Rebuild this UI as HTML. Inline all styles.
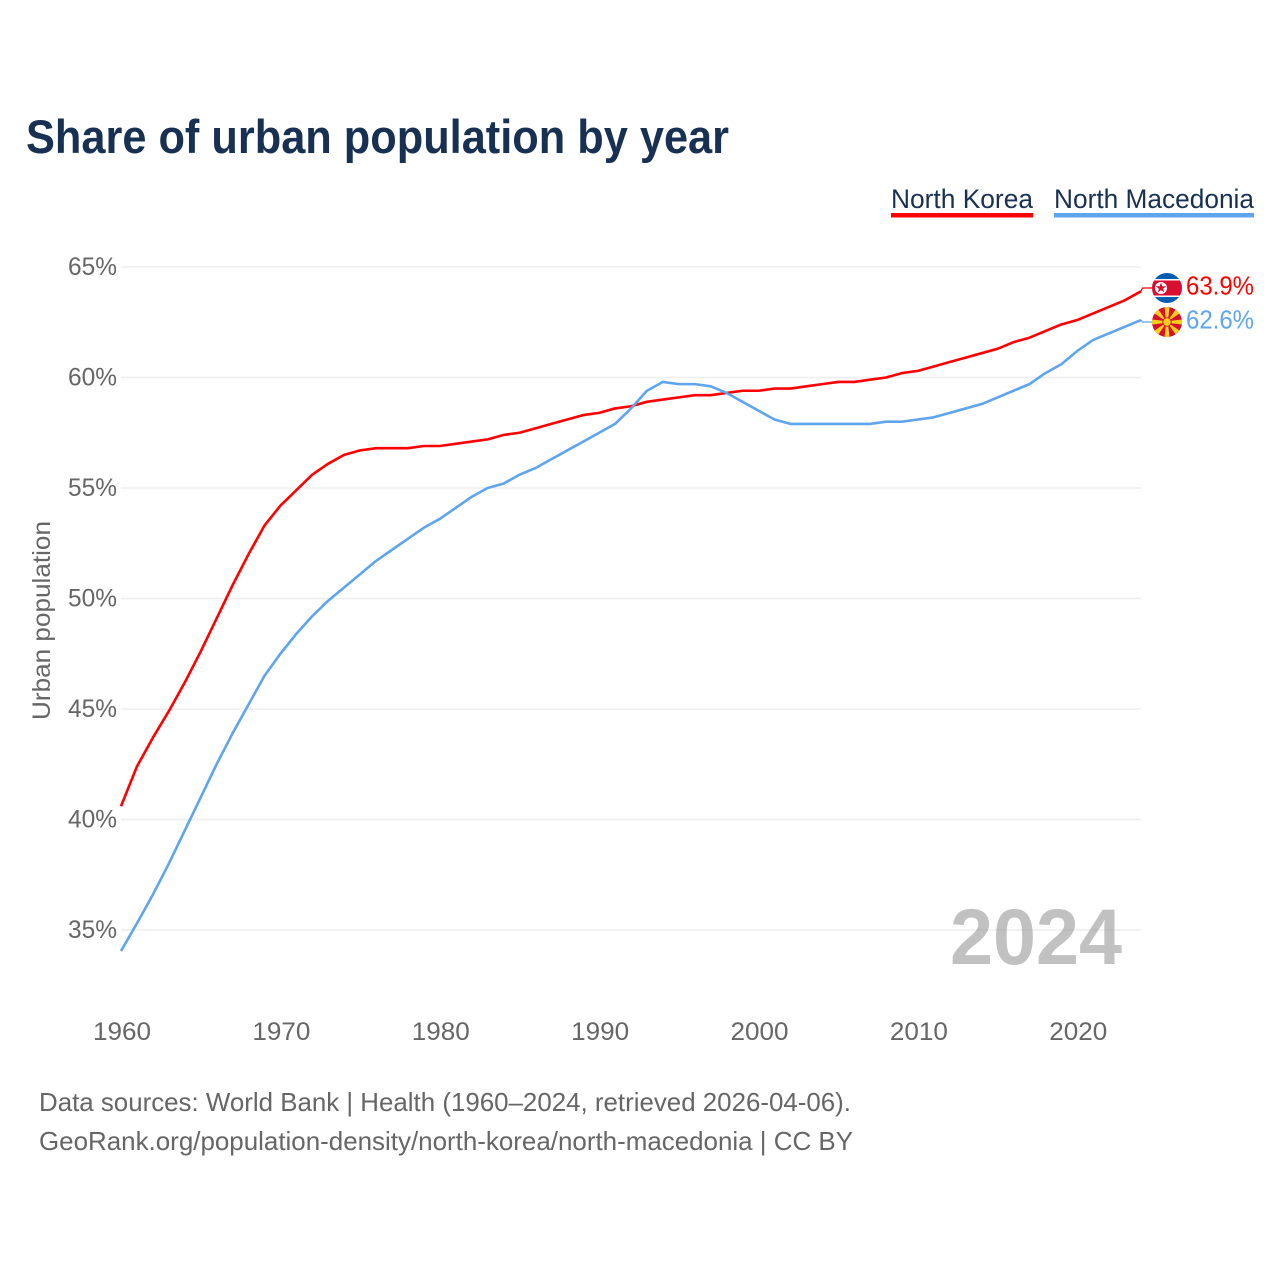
<!DOCTYPE html>
<html lang="en">
<head>
<meta charset="utf-8">
<title>Share of urban population by year</title>
<style>
html,body{margin:0;padding:0;background:#fff;}
svg{display:block;font-family:"Liberation Sans",sans-serif;}
</style>
</head>
<body>
<svg id="chart" xmlns="http://www.w3.org/2000/svg" width="1280" height="1280" viewBox="0 0 1280 1280">
<rect x="0" y="0" width="1280" height="1280" fill="#fff"/>
<text x="26" y="153" font-size="47" font-weight="700" fill="#183153" textLength="703" lengthAdjust="spacingAndGlyphs">Share of urban population by year</text>
<g id="grid"></g>
<g id="yticks"></g>
<g id="xticks"></g>
<text transform="translate(50,720) rotate(-90)" font-size="25" fill="#666" textLength="199" lengthAdjust="spacingAndGlyphs">Urban population</text>
<text x="1122" y="964" text-anchor="end" font-size="79" font-weight="700" fill="#888" fill-opacity="0.52" textLength="172" lengthAdjust="spacingAndGlyphs">2024</text>
<g id="series"></g>
<g>
<text x="891" y="208" font-size="27" fill="#183153" textLength="142" lengthAdjust="spacingAndGlyphs">North Korea</text>
<rect x="891" y="213" width="142" height="4.5" fill="#ff0000"/>
</g>
<g>
<text x="1054" y="208" font-size="27" fill="#183153" textLength="200" lengthAdjust="spacingAndGlyphs">North Macedonia</text>
<rect x="1054" y="213" width="200" height="4.5" fill="#5ea5ee"/>
</g>
<defs>
<clipPath id="clip-kp"><circle cx="1167" cy="288" r="15"/></clipPath>
<clipPath id="clip-mk"><circle cx="1167" cy="322" r="15"/></clipPath>
</defs>
<g clip-path="url(#clip-kp)">
<rect x="1152" y="273" width="30" height="30" fill="#0a5cb0"/>
<rect x="1152" y="279" width="30" height="18" fill="#fff"/>
<rect x="1152" y="280.5" width="30" height="15" fill="#d80f2e"/>
<circle cx="1161" cy="288" r="6" fill="#fff"/>
<polygon points="1161,282.5 1162.3,286.2 1166.2,286.3 1163.1,288.7 1164.2,292.4 1161,290.2 1157.8,292.4 1158.9,288.7 1155.8,286.3 1159.7,286.2" fill="#d80f2e"/>
</g>
<g clip-path="url(#clip-mk)">
<rect x="1152" y="307" width="30" height="30" fill="#d6102a"/>
<g fill="#f8d01c">
<polygon points="1166.2,322 1167.8,322 1169.5,307 1164.5,307"/>
<polygon points="1166.2,322 1167.8,322 1169.5,337 1164.5,337"/>
<polygon points="1167,321.2 1167,322.8 1182,324.5 1182,319.5"/>
<polygon points="1167,321.2 1167,322.8 1152,324.5 1152,319.5"/>
<polygon points="1167,322 1180.6,312.6 1176.4,308.4"/>
<polygon points="1167,322 1153.4,312.6 1157.6,308.4"/>
<polygon points="1167,322 1180.6,331.4 1176.4,335.6"/>
<polygon points="1167,322 1153.4,331.4 1157.6,335.6"/>
<circle cx="1167" cy="322" r="4.2" stroke="#d6102a" stroke-width="0.9"/>
</g>
</g>
<text id="value-kp" x="1186" y="294.5" font-size="25.5" fill="#ff0000" textLength="68" lengthAdjust="spacingAndGlyphs"></text>
<text id="value-mk" x="1186" y="328.5" font-size="25.5" fill="#5ea5ee" textLength="68" lengthAdjust="spacingAndGlyphs"></text>
<text x="39" y="1111" font-size="26" fill="#666" textLength="812" lengthAdjust="spacingAndGlyphs">Data sources: World Bank | Health (1960–2024, retrieved 2026-04-06).</text>
<text x="39" y="1150" font-size="26" fill="#666" textLength="814" lengthAdjust="spacingAndGlyphs">GeoRank.org/population-density/north-korea/north-macedonia | CC BY</text>
</svg>
<script>
const startYear = 1960;
const endYear = 2024;
const yTickValues = [35, 40, 45, 50, 55, 60, 65];
const xTickValues = [1960, 1970, 1980, 1990, 2000, 2010, 2020];
const northKorea = [40.6,42.4,43.7,44.9,46.2,47.6,49.1,50.6,52.0,53.3,54.2,54.9,55.6,56.1,56.5,56.7,56.8,56.8,56.8,56.9,56.9,57.0,57.1,57.2,57.4,57.5,57.7,57.9,58.1,58.3,58.4,58.6,58.7,58.9,59.0,59.1,59.2,59.2,59.3,59.4,59.4,59.5,59.5,59.6,59.7,59.8,59.8,59.9,60.0,60.2,60.3,60.5,60.7,60.9,61.1,61.3,61.6,61.8,62.1,62.4,62.6,62.9,63.2,63.5,63.9];
const northMacedonia = [34.05,35.3,36.6,38.0,39.5,41.0,42.5,43.9,45.2,46.5,47.5,48.4,49.2,49.9,50.5,51.1,51.7,52.2,52.7,53.2,53.6,54.1,54.6,55.0,55.2,55.6,55.9,56.3,56.7,57.1,57.5,57.9,58.6,59.4,59.8,59.7,59.7,59.6,59.3,58.9,58.5,58.1,57.9,57.9,57.9,57.9,57.9,57.9,58.0,58.0,58.1,58.2,58.4,58.6,58.8,59.1,59.4,59.7,60.2,60.6,61.2,61.7,62.0,62.3,62.6];

const NS = 'http://www.w3.org/2000/svg';
function xScale(year) { return 121 + (year - startYear) * (1141 - 121) / (endYear - startYear); }
function yScale(v) { return 930 + (v - 35) * (267 - 930) / (65 - 35); }
function make(tag, attrs, parent) {
  const el = document.createElementNS(NS, tag);
  for (const k in attrs) el.setAttribute(k, attrs[k]);
  parent.appendChild(el);
  return el;
}
const gridG = document.getElementById('grid');
const yG = document.getElementById('yticks');
const xG = document.getElementById('xticks');
const seriesG = document.getElementById('series');

yTickValues.forEach(function (v) {
  const line = make('line', {x1: 121, x2: 1141, y1: yScale(v), y2: yScale(v), stroke: '#eeeeee', 'stroke-width': 1.5}, gridG);
  
  
  const t = make('text', {x: 117, y: yScale(v) + 8, 'text-anchor': 'end', 'font-size': 25, fill: '#666', textLength: 49, lengthAdjust: 'spacingAndGlyphs'}, yG);
  
  
  t.textContent = v + '%';
});
xTickValues.forEach(function (year) {
  const t = make('text', {x: xScale(year) + 1, y: 1040, 'text-anchor': 'middle', 'font-size': 25, fill: '#666', textLength: 58, lengthAdjust: 'spacingAndGlyphs'}, xG);
  
  
  t.textContent = year;
});
function drawSeries(values, color, name, flagY) {
  const pts = values.map(function (v, i) { return xScale(startYear + i).toFixed(2) + ',' + yScale(v).toFixed(2); });
  const line = make('polyline', {points: pts.join(' '), fill: 'none', stroke: color, 'stroke-width': 2.6, 'stroke-linejoin': 'round'}, seriesG);
  
  
  const last = values[values.length - 1];
  const lead = make('polyline', {points: xScale(endYear) + ',' + yScale(last) + ' ' + (xScale(endYear) + 1.5) + ',' + flagY + ' 1152,' + flagY, fill: 'none', stroke: color, 'stroke-width': 1.2}, seriesG);
  
  
}
drawSeries(northKorea, '#ff0000', 'line-north-korea', 288);
drawSeries(northMacedonia, '#5ea5ee', 'line-north-macedonia', 322);
document.getElementById('value-kp').textContent = northKorea[northKorea.length - 1].toFixed(1) + '%';
document.getElementById('value-mk').textContent = northMacedonia[northMacedonia.length - 1].toFixed(1) + '%';
</script>
</body>
</html>
